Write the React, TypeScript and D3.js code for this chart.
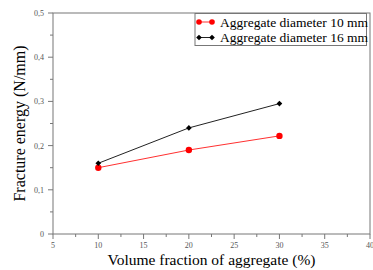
import React from "react";
import * as d3 from "d3";

const width = 373;
const height = 270;
const margin = { top: 13, right: 3, bottom: 36, left: 53 };

const fractions = [10, 20, 30];
const diam10 = [0.15, 0.19, 0.222];
const diam16 = [0.16, 0.24, 0.295];
const xTicks = [5, 10, 15, 20, 25, 30, 35, 40];
const yTicks = [0, 0.1, 0.2, 0.3, 0.4, 0.5];
const seriesNames = ["Aggregate diameter 10 mm", "Aggregate diameter 16 mm"];

const font = "Liberation Serif, DejaVu Serif, serif";
const axisColor = "#777";

export default function App() {
  const xScale = d3
    .scaleLinear()
    .domain([5, 40])
    .range([margin.left, width - margin.right]);
  const yScale = d3
    .scaleLinear()
    .domain([0, 0.5])
    .range([height - margin.bottom, margin.top]);

  const line = d3
    .line<number>()
    .x((_, i) => xScale(fractions[i]))
    .y(d => yScale(d));

  // square rotated 45deg -> diamond
  const diamond = d3.symbol().type(d3.symbolSquare).size(16)();

  const x0 = xScale(5);
  const x1 = xScale(40);
  const y0 = yScale(0);
  const y1 = yScale(0.5);

  const xMinor = d3.range(7.5, 40, 5);
  const yMinor = d3.range(0.05, 0.5, 0.1);

  const fmt = (v: number) => (v === 0 ? "0" : d3.format(".1f")(v).replace(".", ","));

  return (
    <svg width={width} height={height} style={{ position: "absolute", left: 0, top: 0 }}>
      {/* frame */}
      <rect x={x0} y={y1} width={x1 - x0} height={y0 - y1} fill="none" stroke={axisColor} strokeWidth={1} />

      {/* x ticks */}
      {xTicks.map(t => (
        <g key={t}>
          <line x1={xScale(t)} x2={xScale(t)} y1={y0} y2={y0 + 5} stroke={axisColor} />
          <text x={xScale(t)} y={y0 + 14} fontSize={8} fontFamily={font} textAnchor="middle" fill="#555">
            {t}
          </text>
        </g>
      ))}
      {xMinor.map(t => (
        <line key={t} x1={xScale(t)} x2={xScale(t)} y1={y0} y2={y0 + 3} stroke={axisColor} />
      ))}

      {/* y ticks */}
      {yTicks.map(t => (
        <g key={t}>
          <line x1={x0 - 5} x2={x0} y1={yScale(t)} y2={yScale(t)} stroke={axisColor} />
          <text x={x0 - 9} y={yScale(t) + 3} fontSize={8} fontFamily={font} textAnchor="end" fill="#555">
            {fmt(t)}
          </text>
        </g>
      ))}
      {yMinor.map(t => (
        <line key={t} x1={x0 - 3} x2={x0} y1={yScale(t)} y2={yScale(t)} stroke={axisColor} />
      ))}

      {/* series */}
      <path d={line(diam10) ?? ""} fill="none" stroke="#ff3030" strokeWidth={1} />
      {diam10.map((v, i) => (
        <circle key={i} cx={xScale(fractions[i])} cy={yScale(v)} r={3.2} fill="#ff0000" />
      ))}
      <path d={line(diam16) ?? ""} fill="none" stroke="#222" strokeWidth={1} />
      {diam16.map((v, i) => (
        <path
          key={i}
          d={diamond ?? ""}
          transform={`translate(${xScale(fractions[i])},${yScale(v)}) rotate(45)`}
          fill="#000"
        />
      ))}

      {/* legend */}
      <rect x={195} y={13.5} width={171.5} height={32} fill="#fff" stroke={axisColor} />
      {seriesNames.map((name, i) => {
        const ly = 22 + i * 15.5;
        return (
          <g key={name}>
            <line x1={199} x2={212} y1={ly} y2={ly} stroke={i === 0 ? "#ff3030" : "#222"} />
            {[199, 212].map(px =>
              i === 0 ? (
                <circle key={px} cx={px} cy={ly} r={2.8} fill="#ff0000" />
              ) : (
                <path key={px} d={diamond ?? ""} transform={`translate(${px},${ly}) rotate(45)`} fill="#000" />
              )
            )}
            <text x={220} y={ly + 4.5} fontSize={13.5} fontFamily={font} fill="#000">
              {name}
            </text>
          </g>
        );
      })}

      {/* axis titles */}
      <text x={(x0 + x1) / 2} y={265} fontSize={15.5} fontFamily={font} textAnchor="middle" fill="#000">
        Volume fraction of aggregate (%)
      </text>
      <text
        transform={`translate(25,${(y0 + y1) / 2}) rotate(-90)`}
        fontSize={16}
        fontFamily={font}
        textAnchor="middle"
        fill="#000"
      >
        Fracture energy (N/mm)
      </text>
    </svg>
  );
}
